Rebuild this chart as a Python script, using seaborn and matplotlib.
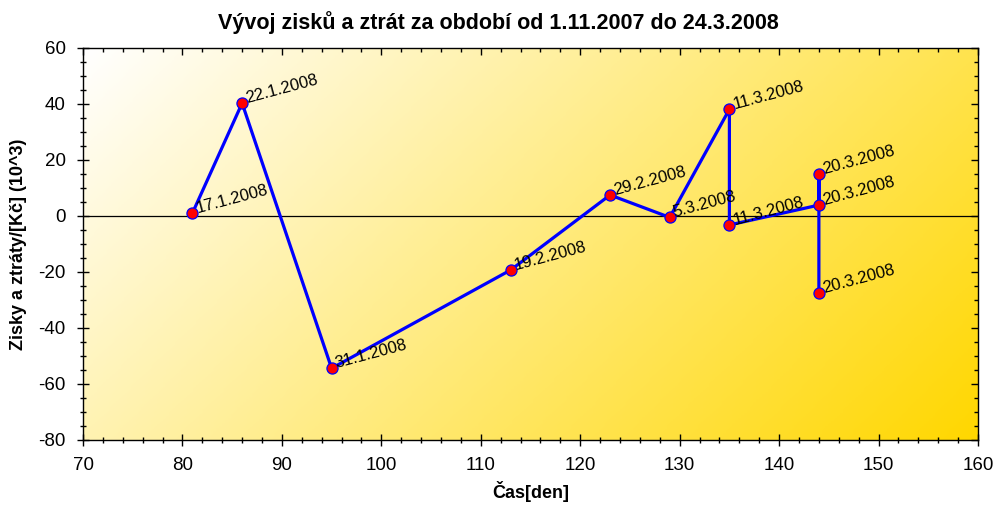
import numpy as np
import pandas as pd
import matplotlib
matplotlib.use("Agg")
import matplotlib.pyplot as plt
import seaborn as sns
from matplotlib.colors import LinearSegmentedColormap
from matplotlib.ticker import MultipleLocator

# ---- data ----
days = [81, 86, 95, 113, 123, 129, 135, 135, 144, 144, 144]
values = [1.0, 40.3, -54.4, -19.3, 7.5, -0.5, 38.1, -3.2, 3.9, 15.0, -27.6]
dates = ["17.1.2008", "22.1.2008", "31.1.2008", "19.2.2008", "29.2.2008",
         "5.3.2008", "11.3.2008", "11.3.2008", "20.3.2008", "20.3.2008", "20.3.2008"]
title = "Vývoj zisků a ztrát za období od 1.11.2007 do 24.3.2008"
xlabel = "Čas[den]"
ylabel = "Zisky a ztráty/[Kč] (10^3)"

df = pd.DataFrame({"den": days, "zisk": values, "datum": dates})

sns.set_theme(style="white")
plt.rcParams["font.family"] = ["Liberation Sans", "DejaVu Sans"]
plt.rcParams["axes.unicode_minus"] = False
plt.rcParams["text.color"] = "black"
plt.rcParams["axes.labelcolor"] = "black"
plt.rcParams["xtick.color"] = "black"
plt.rcParams["ytick.color"] = "black"

fig = plt.figure(figsize=(10.01, 5.15), dpi=100)
ax = fig.add_axes([83 / 1001, 1 - 440 / 515, (978 - 83) / 1001, (440 - 48) / 515])

# gradient background
W, H = 895, 392
xx = np.linspace(0, W, 300)
yy = np.linspace(0, H, 150)
X, Y = np.meshgrid(xx, yy)
T = (X + Y) / (W + H)
cmap = LinearSegmentedColormap.from_list("g", ["#FFFFFF", "#FFEB80", "#FFD700"])
ax.imshow(T, cmap=cmap, extent=[0, 1, 0, 1], origin="upper", aspect="auto",
          transform=ax.transAxes, zorder=0, interpolation="bilinear")

ax.axhline(0, color="black", lw=0.9, zorder=1)

sns.lineplot(data=df, x="den", y="zisk", sort=False, estimator=None, ax=ax,
             color="#0000FF", lw=2.3, marker="o", markersize=8,
             markerfacecolor="#FF0000", markeredgecolor="#0000FF",
             markeredgewidth=0.9, zorder=3)

for xv, yv, lab in zip(days, values, dates):
    ax.annotate(lab, (xv, yv), xytext=(3.5, 0), textcoords="offset points",
                rotation=15, rotation_mode="anchor", ha="left", va="baseline",
                fontsize=12, color="black", zorder=4)

ax.set_xlim(70, 160)
ax.set_ylim(-80, 60)
ax.xaxis.set_major_locator(MultipleLocator(10))
ax.xaxis.set_minor_locator(MultipleLocator(2))
ax.yaxis.set_major_locator(MultipleLocator(20))
ax.yaxis.set_minor_locator(MultipleLocator(5))

ax.tick_params(which="major", direction="inout", length=9, width=1, color="black",
               labelsize=13.5, labelcolor="black", bottom=True, left=True, top=False, right=False)
ax.tick_params(which="minor", direction="inout", length=5, width=1, color="black",
               bottom=True, left=True, top=False, right=False)
ax.tick_params(axis="x", which="major", pad=8)
ax.tick_params(axis="y", which="major", pad=8)

secx = ax.secondary_xaxis("top")
secx.xaxis.set_major_locator(MultipleLocator(10))
secx.xaxis.set_minor_locator(MultipleLocator(2))
secx.tick_params(which="major", direction="in", length=5, width=1, color="black", labeltop=False)
secx.tick_params(which="minor", direction="in", length=3, width=1, color="black")
secx.spines["top"].set_visible(False)
secy = ax.secondary_yaxis("right")
secy.yaxis.set_major_locator(MultipleLocator(20))
secy.yaxis.set_minor_locator(MultipleLocator(5))
secy.tick_params(which="major", direction="in", length=5, width=1, color="black", labelright=False)
secy.tick_params(which="minor", direction="in", length=3, width=1, color="black")
secy.spines["right"].set_visible(False)

for s in ax.spines.values():
    s.set_visible(True)
    s.set_color("black")
    s.set_linewidth(1)

ax.set_xlabel(xlabel, fontsize=13, fontweight="bold", labelpad=5)
ax.set_ylabel(ylabel, fontsize=13, fontweight="bold", labelpad=8)
ax.set_title(title, fontsize=15.5, fontweight="bold", pad=14, color="black",
             x=(498 - 83) / 895)

fig.savefig("out.png", dpi=100)
